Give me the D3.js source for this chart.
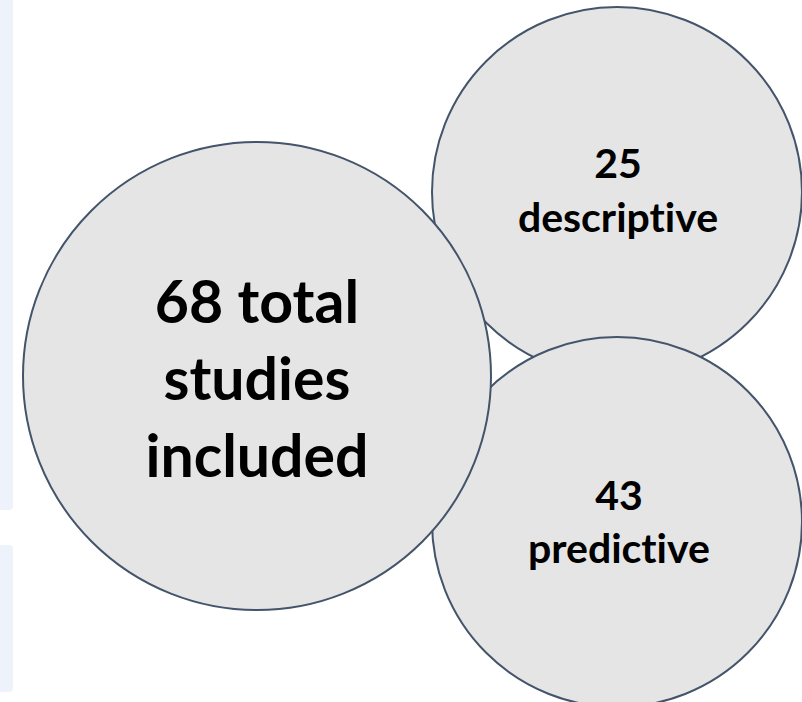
<!DOCTYPE html>
<html>
<head>
<meta charset="utf-8">
<script src="https://cdn.jsdelivr.net/npm/d3@7"></script>
<style>
  html, body { margin: 0; padding: 0; background: #ffffff; }
  svg { display: block; }
  text {
    font-family: Lato, "Open Sans", sans-serif;
    font-weight: 700;
    fill: #000000;
    font-variant-ligatures: none;
    font-feature-settings: "liga" 0, "clig" 0;
  }
</style>
</head>
<body>
<svg id="chart" width="802" height="702"></svg>
<script>
// Study counts shown in the bubbles
const groups = ["total", "descriptive", "predictive"];
const counts = [68, 25, 43];

// Bubble placement (centre x, centre y, radius) in page pixels
const layoutCx = [257, 617, 617];
const layoutCy = [376, 192, 522];
const layoutR  = [234, 185, 185];

const svg = d3.select("#chart");

// Pale panels along the left edge
const panels = [[0, -10, 13, 520], [0, 545, 13, 147]];
svg.selectAll("rect.panel")
  .data(panels)
  .join("rect")
  .attr("class", "panel")
  .attr("x", d => d[0] - 6)
  .attr("y", d => d[1])
  .attr("width", d => d[2] + 6)
  .attr("height", d => d[3])
  .attr("rx", 4)
  .attr("fill", "#eef3fb");

const nodes = groups.map((g, i) => ({
  key: g,
  count: counts[i],
  cx: layoutCx[i],
  cy: layoutCy[i],
  r: layoutR[i],
  lines: g === "total"
    ? [`${counts[i]} total`, "studies", "included"]
    : [`${counts[i]}`, g]
}));

// Paint order: descriptive, predictive, then the total bubble on top
const order = ["descriptive", "predictive", "total"];
const sorted = order.map(k => nodes.find(n => n.key === k));

const g = svg.selectAll("g.bubble")
  .data(sorted)
  .join("g")
  .attr("class", "bubble");

g.append("circle")
  .attr("cx", d => d.cx)
  .attr("cy", d => d.cy)
  .attr("r", d => d.r)
  .attr("fill", "#e5e5e5")
  .attr("stroke", "#44546a")
  .attr("stroke-width", 2);

// Text settings per bubble: font size, first baseline, line step, x offset
const textStyle = {
  total:       { size: 59, base: 323, step: 77, dx: 0 },
  descriptive: { size: 41, base: 178, step: 54, dx: 1 },
  predictive:  { size: 41, base: 510, step: 53, dx: 2 }
};

g.each(function (d) {
  const s = textStyle[d.key];
  const t = d3.select(this).append("text")
    .attr("text-anchor", "middle")
    .attr("font-size", s.size);
  t.selectAll("tspan")
    .data(d.lines)
    .join("tspan")
    .attr("x", d.cx + s.dx)
    .attr("y", (line, i) => s.base + i * s.step)
    .text(line => line);
});
</script>
</body>
</html>
